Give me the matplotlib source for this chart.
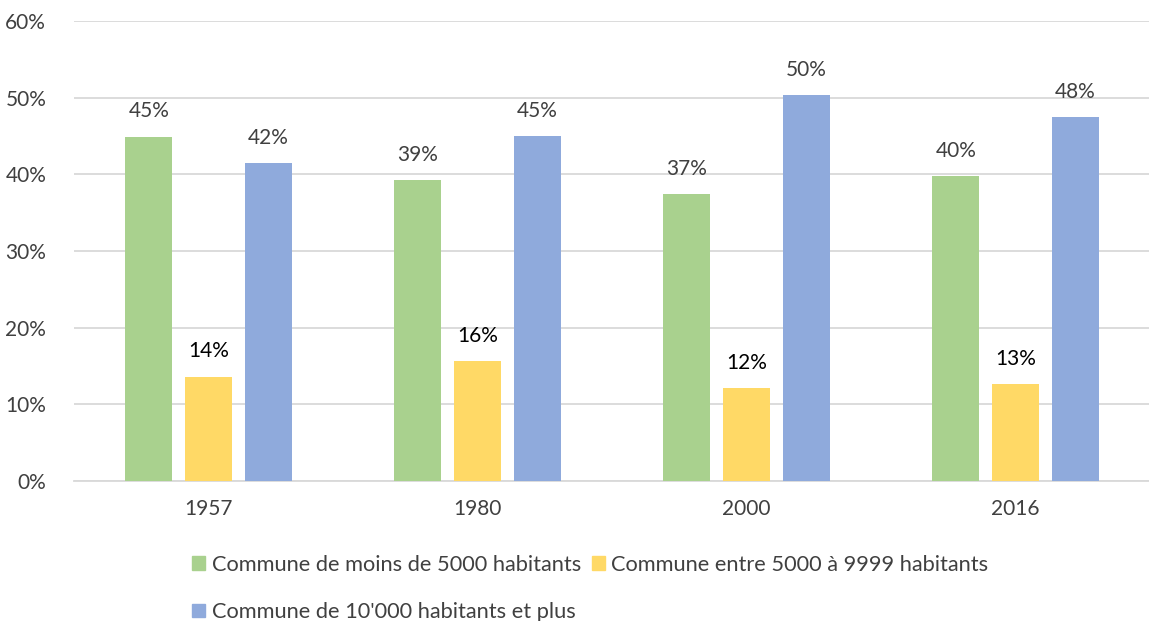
import matplotlib
matplotlib.use("Agg")
import matplotlib.pyplot as plt
import numpy as np
from matplotlib.patches import Patch

years = ["1957", "1980", "2000", "2016"]
series_names = ["Commune de moins de 5000 habitants",
                "Commune entre 5000 à 9999 habitants",
                "Commune de 10'000 habitants et plus"]
small = [44.9, 39.2, 37.4, 39.8]
medium = [13.6, 15.6, 12.1, 12.6]
large = [41.5, 45.0, 50.3, 47.5]
colors = ["#a9d18e", "#ffd966", "#8faadc"]
label_colors = ["#404040", "#000000", "#404040"]

plt.rcParams['font.family'] = ['Lato', 'DejaVu Sans']

fig = plt.figure(figsize=(11.49, 6.21), dpi=100)
ax = fig.add_axes([74/1149, 1-481/621, 1076/1149, 460/621])

x = np.arange(len(years))
w = 0.174
off = 0.222
data = [small, medium, large]
for i, (vals, c, lc) in enumerate(zip(data, colors, label_colors)):
    pos = x + (i - 1) * off
    ax.bar(pos, vals, width=w, color=c, zorder=3)
    for p, v in zip(pos, vals):
        ax.text(p, v + 2.0, f"{round(v):.0f}%", ha="center", va="bottom",
                fontsize=15, color=lc)

ax.set_xlim(-0.5, 3.5)
ax.set_ylim(0, 60)
ax.set_yticks(range(0, 61, 10))
ax.set_yticklabels([f"{t}%" for t in range(0, 61, 10)])
ax.set_xticks(x)
ax.set_xticklabels(years)
ax.grid(axis="y", color="#d9d9d9", linewidth=1.3, zorder=0)
for s in ["top", "right", "left"]:
    ax.spines[s].set_visible(False)
ax.spines["bottom"].set_color("#d9d9d9")
ax.spines["bottom"].set_linewidth(1.3)
ax.tick_params(axis="both", length=0, labelsize=15, colors="#404040")
ax.tick_params(axis="x", pad=13)
ax.tick_params(axis="y", pad=20)

handles = [Patch(color=c) for c in colors]
order = [0, 2, 1]
fig.legend([handles[i] for i in order], [series_names[i] for i in order],
           ncol=2, loc="upper left", bbox_to_anchor=(192/1149, 1-555/621),
           frameon=False, fontsize=15.7, handlelength=0.6, handleheight=0.6,
           handletextpad=0.3, columnspacing=0.5, labelspacing=1.25,
           labelcolor="#404040", borderaxespad=0, borderpad=0)

fig.savefig("out.png", dpi=100)
